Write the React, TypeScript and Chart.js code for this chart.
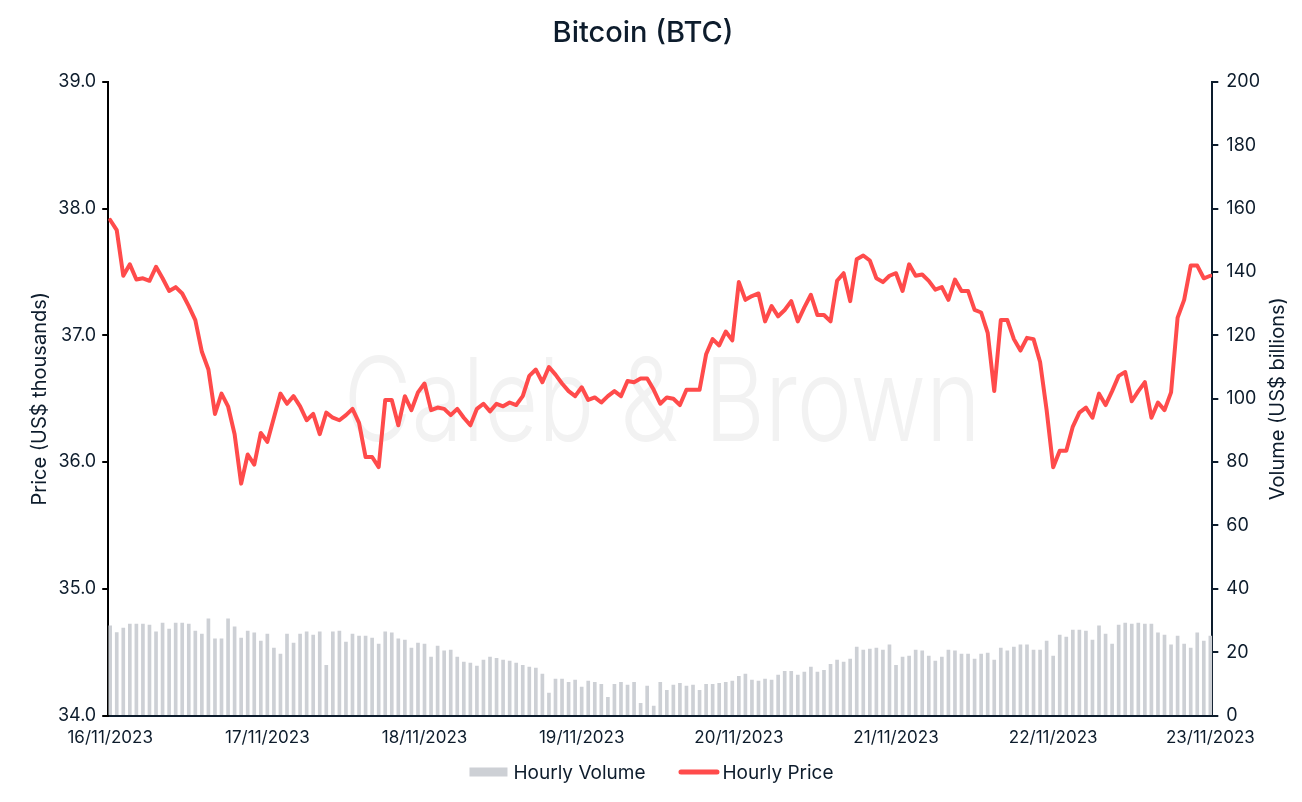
import { useEffect, useRef } from 'react';
import { Chart, registerables } from 'chart.js';

Chart.register(...registerables);

const chartTitle = 'Bitcoin (BTC)';
const priceAxisTitle = 'Price (US$ thousands)';
const volumeAxisTitle = 'Volume (US$ billions)';
const watermarkText = 'Caleb & Brown';
const seriesNames = ['Hourly Volume', 'Hourly Price'];

const dayLabels = [
  '16/11/2023', '17/11/2023', '18/11/2023', '19/11/2023',
  '20/11/2023', '21/11/2023', '22/11/2023', '23/11/2023',
];
const HOURS_PER_DAY = 24;

const priceTicks = [34, 35, 36, 37, 38, 39];
const volumeTicks = [0, 20, 40, 60, 80, 100, 120, 140, 160, 180, 200];

// Hourly price, US$ thousands (hour 0 = 16/11/2023 00:00)
const hourlyPrice = [
  37.91, 37.83, 37.47, 37.56, 37.44, 37.45, 37.43, 37.54, 37.45, 37.35,
  37.38, 37.33, 37.23, 37.12, 36.87, 36.73, 36.38, 36.54, 36.44, 36.22,
  35.83, 36.06, 35.98, 36.23, 36.16, 36.35, 36.54, 36.46, 36.52, 36.44,
  36.33, 36.38, 36.22, 36.39, 36.35, 36.33, 36.37, 36.42, 36.31, 36.04,
  36.04, 35.96, 36.49, 36.49, 36.29, 36.52, 36.41, 36.55, 36.62, 36.41,
  36.43, 36.42, 36.37, 36.42, 36.35, 36.29, 36.42, 36.46, 36.40, 36.46,
  36.44, 36.47, 36.45, 36.52, 36.68, 36.73, 36.63, 36.75, 36.69, 36.62,
  36.56, 36.52, 36.59, 36.49, 36.51, 36.47, 36.52, 36.56, 36.52, 36.64,
  36.63, 36.66, 36.66, 36.57, 36.46, 36.51, 36.50, 36.45, 36.57, 36.57,
  36.57, 36.85, 36.97, 36.92, 37.03, 36.96, 37.42, 37.28, 37.31, 37.33,
  37.11, 37.23, 37.15, 37.20, 37.27, 37.11, 37.22, 37.32, 37.16, 37.16,
  37.11, 37.43, 37.49, 37.27, 37.60, 37.63, 37.59, 37.45, 37.42, 37.47,
  37.49, 37.35, 37.56, 37.47, 37.48, 37.43, 37.36, 37.38, 37.28, 37.44,
  37.35, 37.35, 37.20, 37.18, 37.02, 36.56, 37.12, 37.12, 36.97, 36.88,
  36.98, 36.97, 36.79, 36.41, 35.96, 36.09, 36.09, 36.28, 36.39, 36.43,
  36.35, 36.54, 36.45, 36.56, 36.68, 36.71, 36.48, 36.56, 36.63, 36.35,
  36.47, 36.41, 36.55, 37.14, 37.28, 37.55, 37.55, 37.45, 37.47,
];

// Hourly volume, US$ billions
const hourlyVolume = [
  28.3, 26.2, 27.6, 28.9, 28.9, 28.9, 28.6, 26.4, 29.2, 27.3,
  29.2, 29.2, 28.9, 26.7, 25.7, 30.5, 24.2, 24.2, 30.5, 28.0,
  24.5, 26.7, 26.1, 23.5, 25.7, 21.3, 19.4, 25.7, 22.9, 25.7,
  26.4, 25.4, 26.4, 15.9, 26.4, 26.7, 23.2, 25.7, 25.1, 25.1,
  24.5, 22.6, 26.4, 26.1, 24.2, 23.8, 21.3, 22.9, 22.6, 18.5,
  21.9, 20.4, 20.7, 18.5, 16.9, 16.6, 15.6, 17.5, 18.5, 18.1,
  17.5, 17.2, 16.6, 15.9, 15.3, 15.0, 13.1, 7.1, 11.5, 11.5,
  10.5, 11.2, 9.0, 10.9, 10.5, 9.9, 5.8, 9.9, 10.5, 9.6,
  10.5, 3.9, 9.3, 3.0, 10.5, 8.0, 9.6, 10.2, 9.3, 9.6,
  8.0, 9.9, 9.9, 10.2, 10.5, 10.9, 12.4, 13.1, 11.2, 10.9,
  11.5, 11.2, 12.8, 14.0, 14.0, 12.8, 13.7, 15.3, 13.7, 14.3,
  16.2, 17.5, 16.9, 17.8, 21.6, 20.7, 21.0, 21.3, 20.7, 22.3,
  15.9, 18.5, 18.8, 20.7, 20.4, 18.8, 17.2, 18.5, 20.7, 20.4,
  19.4, 19.4, 17.8, 19.4, 19.7, 17.5, 21.3, 20.4, 21.6, 22.3,
  22.3, 20.7, 20.7, 23.5, 18.8, 25.4, 24.8, 27.0, 27.0, 26.7,
  23.8, 28.3, 25.7, 22.6, 28.6, 29.2, 28.9, 29.2, 28.9, 28.9,
  26.1, 25.4, 22.3, 25.1, 22.6, 21.3, 26.1, 23.5, 25.1,
];

const NAVY = '#0d1c2c';
const RED = '#ff4b4b';
const GREY = '#cdd0d5';
const FONT = 'Inter, "Noto Sans", sans-serif';

const watermarkPlugin = {
  id: 'watermark',
  beforeDatasetsDraw(chart: any) {
    const { ctx, chartArea } = chart;
    const cx = (chartArea.left + chartArea.right) / 2 + 2;
    const cy = (chartArea.top + chartArea.bottom) / 2;
    ctx.save();
    ctx.font = '300 116px Inter, "Noto Sans", sans-serif';
    ctx.fillStyle = '#f2f2f2';
    ctx.textAlign = 'center';
    ctx.textBaseline = 'alphabetic';
    ctx.fillText(watermarkText, cx, cy + 42, 637);
    ctx.restore();
  },
};

const rightTitlePlugin = {
  id: 'rightTitle',
  afterDraw(chart: any) {
    const { ctx, chartArea } = chart;
    const x = chart.width - 24;
    const y = (chartArea.top + chartArea.bottom) / 2;
    ctx.save();
    ctx.translate(x, y);
    ctx.rotate(-Math.PI / 2);
    ctx.font = '20px Inter, "Noto Sans", sans-serif';
    ctx.fillStyle = NAVY;
    ctx.textAlign = 'center';
    ctx.textBaseline = 'middle';
    ctx.fillText(volumeAxisTitle, 0, 0);
    ctx.restore();
  },
};

// Bottom legend: grey box for volume, thick red line for price
const legendPlugin = {
  id: 'bottomLegend',
  afterDraw(chart: any) {
    const { ctx } = chart;
    const y = chart.height - 30;
    const boxW = 38;
    const lineW = 41;
    const gapAfterMark = 6;
    const gapBetween = 33;
    ctx.save();
    ctx.font = '19px Inter, "Noto Sans", sans-serif';
    const w0 = ctx.measureText(seriesNames[0]).width;
    const w1 = ctx.measureText(seriesNames[1]).width;
    const total = boxW + gapAfterMark + w0 + gapBetween + lineW + gapAfterMark + w1;
    let x = chart.width / 2 - total / 2 + 2;
    ctx.fillStyle = GREY;
    ctx.fillRect(x, y - 4.5, boxW, 9);
    x += boxW + gapAfterMark;
    ctx.fillStyle = NAVY;
    ctx.textAlign = 'left';
    ctx.textBaseline = 'middle';
    ctx.fillText(seriesNames[0], x, y + 1);
    x += w0 + gapBetween;
    ctx.strokeStyle = RED;
    ctx.lineWidth = 5;
    ctx.lineCap = 'round';
    ctx.beginPath();
    ctx.moveTo(x + 2.5, y);
    ctx.lineTo(x + lineW - 2.5, y);
    ctx.stroke();
    x += lineW + gapAfterMark - 3;
    ctx.fillStyle = NAVY;
    ctx.fillText(seriesNames[1], x, y + 1);
    ctx.restore();
  },
};

export default function App() {
  const canvasRef = useRef<HTMLCanvasElement | null>(null);

  useEffect(() => {
    if (!canvasRef.current) return;
    const volumePoints = hourlyVolume.map((v, i) => ({ x: i, y: v }));
    const pricePoints = hourlyPrice.map((p, i) => ({ x: i, y: p }));
    const lastHour = hourlyPrice.length - 1;

    const chart = new Chart(canvasRef.current, {
      type: 'bar',
      data: {
        datasets: [
          {
            type: 'bar',
            label: seriesNames[0],
            data: volumePoints as any,
            backgroundColor: GREY,
            borderWidth: 0,
            barThickness: 3,
            yAxisID: 'y1',
            order: 2,
          },
          {
            type: 'line',
            label: seriesNames[1],
            data: pricePoints as any,
            borderColor: RED,
            backgroundColor: RED,
            borderWidth: 4,
            pointRadius: 0,
            tension: 0,
            borderJoinStyle: 'round',
            borderCapStyle: 'round',
            yAxisID: 'y',
            order: 1,
          } as any,
        ],
      },
      options: {
        animation: false,
        responsive: true,
        maintainAspectRatio: false,
        layout: { padding: { left: 18, right: 34, top: 6, bottom: 42 } },
        plugins: {
          title: {
            display: true,
            text: chartTitle,
            color: NAVY,
            font: { family: FONT, size: 29, weight: 500 as any },
            padding: { top: 10, bottom: 31 },
          },
          legend: { display: false },
          tooltip: { enabled: false },
        },
        scales: {
          x: {
            type: 'linear',
            offset: false,
            min: -0.3,
            max: lastHour + 0.3,
            afterBuildTicks: (scale: any) => {
              scale.ticks = dayLabels.map((_, i) => ({ value: i * HOURS_PER_DAY }));
            },
            ticks: {
              callback: (v: any) => dayLabels[Math.round(Number(v) / HOURS_PER_DAY)],
              color: NAVY,
              font: { family: FONT, size: 17 },
              padding: 12,
              maxRotation: 0,
              autoSkip: false,
            },
            grid: { display: false, drawTicks: false },
            border: { display: true, color: NAVY, width: 2 },
          },
          y: {
            type: 'linear',
            position: 'left',
            min: priceTicks[0],
            max: priceTicks[priceTicks.length - 1],
            afterBuildTicks: (scale: any) => {
              scale.ticks = priceTicks.map((v) => ({ value: v }));
            },
            ticks: {
              callback: (v: any) => Number(v).toFixed(1),
              color: NAVY,
              font: { family: FONT, size: 18 },
              padding: 6,
            },
            grid: {
              display: true,
              drawOnChartArea: false,
              drawTicks: true,
              tickLength: 6,
              color: '#000000',
              lineWidth: 2,
            },
            border: { display: true, color: '#000000', width: 2 },
            title: {
              display: true,
              text: priceAxisTitle,
              color: NAVY,
              font: { family: FONT, size: 20 },
              padding: { top: 10, bottom: 0 },
            },
          },
          y1: {
            type: 'linear',
            position: 'right',
            min: volumeTicks[0],
            max: volumeTicks[volumeTicks.length - 1],
            afterBuildTicks: (scale: any) => {
              scale.ticks = volumeTicks.map((v) => ({ value: v }));
            },
            ticks: {
              color: NAVY,
              font: { family: FONT, size: 18 },
              padding: 8,
            },
            grid: {
              display: true,
              drawOnChartArea: false,
              drawTicks: true,
              tickLength: 6,
              color: NAVY,
              lineWidth: 2,
            },
            border: { display: true, color: NAVY, width: 2 },
          },
        },
      },
      plugins: [watermarkPlugin, rightTitlePlugin, legendPlugin],
    });

    return () => chart.destroy();
  }, []);

  return (
    <div
      style={{
        position: 'fixed',
        left: 0,
        top: 0,
        width: 1302,
        height: 802,
        background: '#ffffff',
      }}
    >
      <canvas ref={canvasRef} />
    </div>
  );
}
